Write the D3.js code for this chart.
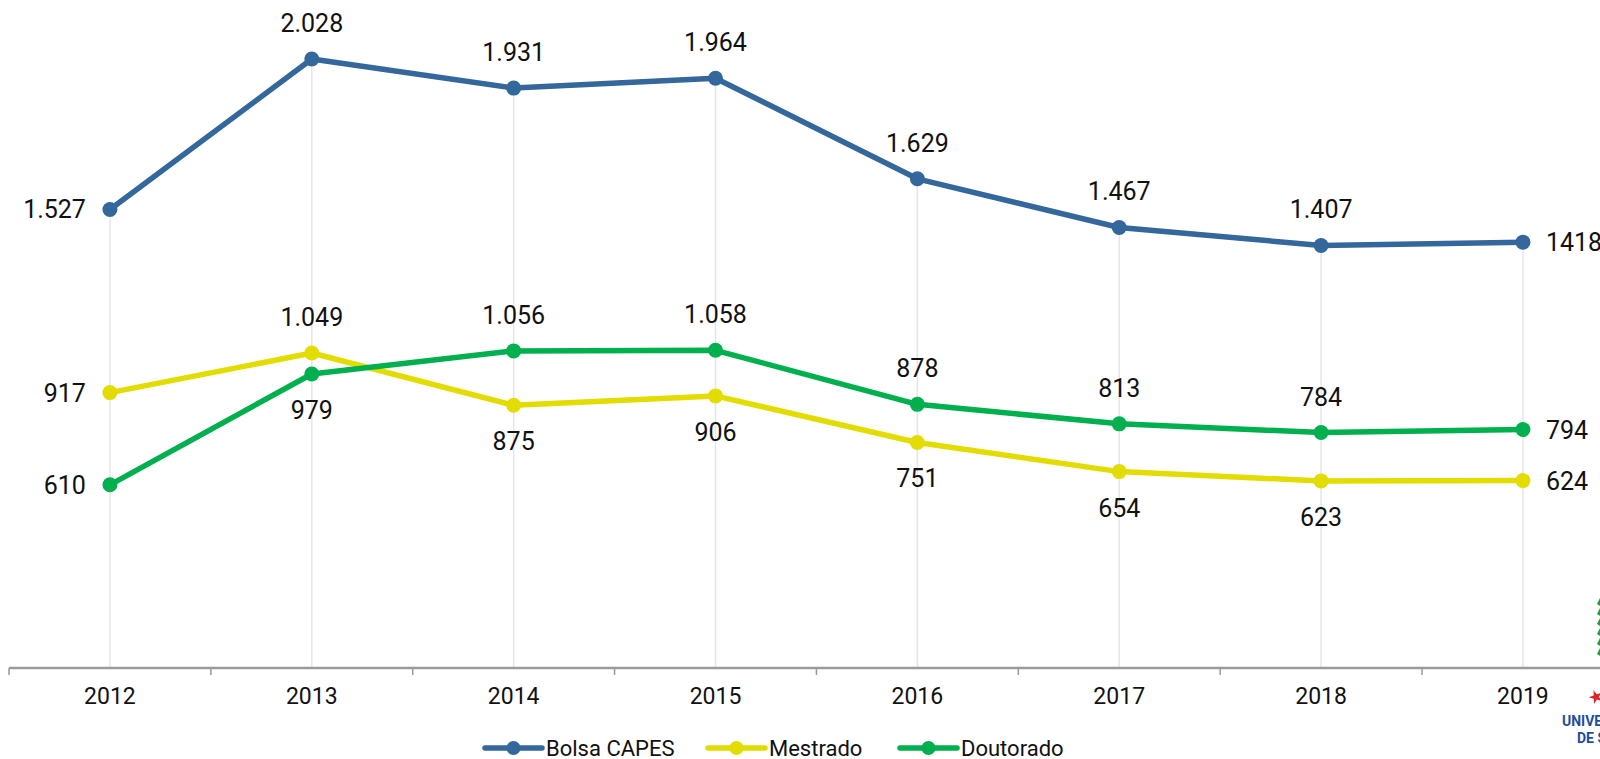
<!DOCTYPE html>
<html>
<head>
<meta charset="utf-8">
<script src="https://cdn.jsdelivr.net/npm/d3@7"></script>
<style>
  body { margin: 0; background: #fff; }
  text { font-family: Roboto, "Open Sans", sans-serif; }
</style>
</head>
<body>
<svg id="chart"></svg>
<script>
const width = 1600;
const height = 759;

// dados
const years = ["2012", "2013", "2014", "2015", "2016", "2017", "2018", "2019"];
const bolsaCapes = [1527, 2028, 1931, 1964, 1629, 1467, 1407, 1418];
const mestrado = [917, 1049, 875, 906, 751, 654, 623, 624];
const doutorado = [610, 979, 1056, 1058, 878, 813, 784, 794];
const bolsaLabels = ["1.527", "2.028", "1.931", "1.964", "1.629", "1.467", "1.407", "1418"];
const mestradoLabels = ["917", "1.049", "875", "906", "751", "654", "623", "624"];
const doutoradoLabels = ["610", "979", "1.056", "1.058", "878", "813", "784", "794"];
const seriesNames = ["Bolsa CAPES", "Mestrado", "Doutorado"];

// posição dos rótulos (esquerda/acima/abaixo/direita)
const bolsaPos = ["l", "a", "a", "a", "a", "a", "a", "r"];
const mestradoPos = ["l", "a", "b", "b", "b", "b", "b", "r"];
const doutoradoPos = ["l", "b", "a", "a", "a", "a", "a", "r"];

const colors = ["#34679b", "#e3dc00", "#00b04f"];

const series = [
  { name: seriesNames[0], values: bolsaCapes, labels: bolsaLabels, pos: bolsaPos, color: colors[0] },
  { name: seriesNames[1], values: mestrado, labels: mestradoLabels, pos: mestradoPos, color: colors[1] },
  { name: seriesNames[2], values: doutorado, labels: doutoradoLabels, pos: doutoradoPos, color: colors[2] }
];

const svg = d3.select("#chart")
    .attr("width", width)
    .attr("height", height);

const axisY = 668;

const x = d3.scaleBand()
    .domain(years)
    .range([9, 9 + 8 * 201.86])
    .padding(0);

const y = d3.scaleLinear()
    .domain([0, 2200])
    .range([axisY, axisY - 2200 * 0.3003]);

const cx = d => x(d) + x.bandwidth() / 2;

// linhas verticais do ponto mais alto até o eixo
const topValues = years.map((yr, i) => d3.max(series, s => s.values[i]));
svg.append("g")
    .selectAll("line")
    .data(years)
    .join("line")
    .attr("x1", d => cx(d))
    .attr("x2", d => cx(d))
    .attr("y1", (d, i) => y(topValues[i]))
    .attr("y2", axisY)
    .attr("stroke", "#e6e6e6")
    .attr("stroke-width", 1.5);

// eixo x
const xAxis = svg.append("g")
    .attr("transform", `translate(0,${axisY})`)
    .call(d3.axisBottom(x).tickSize(0).tickPadding(0));
xAxis.select(".domain").remove();
xAxis.selectAll("text")
    .attr("y", 28)
    .attr("dy", "0.35em")
    .attr("fill", "#111")
    .style("font-size", "23px")
    .style("font-family", "Roboto, sans-serif");

svg.append("line")
    .attr("x1", x.range()[0])
    .attr("x2", width)
    .attr("y1", axisY)
    .attr("y2", axisY)
    .attr("stroke", "#9a9a9a")
    .attr("stroke-width", 2.5);

svg.append("g")
    .selectAll("line")
    .data(years)
    .join("line")
    .attr("x1", d => x(d))
    .attr("x2", d => x(d))
    .attr("y1", axisY)
    .attr("y2", axisY + 7)
    .attr("stroke", "#9a9a9a")
    .attr("stroke-width", 1.5);

// séries
const line = d3.line()
    .x((d, i) => cx(years[i]))
    .y(d => y(d));

series.forEach(s => {
    const g = svg.append("g");
    g.append("path")
        .datum(s.values)
        .attr("d", line)
        .attr("fill", "none")
        .attr("stroke", s.color)
        .attr("stroke-width", 5.5)
        .attr("stroke-linejoin", "round");
    g.selectAll("circle")
        .data(s.values)
        .join("circle")
        .attr("cx", (d, i) => cx(years[i]))
        .attr("cy", d => y(d))
        .attr("r", 7.5)
        .attr("fill", s.color);
});

// rótulos de dados
series.forEach(s => {
    svg.append("g")
        .selectAll("text")
        .data(s.values)
        .join("text")
        .attr("x", (d, i) => {
            const p = s.pos[i];
            if (p === "l") return cx(years[i]) - 24;
            if (p === "r") return cx(years[i]) + 23;
            return cx(years[i]);
        })
        .attr("y", (d, i) => {
            const p = s.pos[i];
            if (p === "a") return y(d) - 36;
            if (p === "b") return y(d) + 36;
            return y(d);
        })
        .attr("dy", "0.36em")
        .attr("text-anchor", (d, i) => s.pos[i] === "l" ? "end" : s.pos[i] === "r" ? "start" : "middle")
        .attr("fill", "#111")
        .style("font-size", "25px")
        .text((d, i) => s.labels[i]);
});

// legenda
const legendX = [485, 708, 900];
const legendY = 748;
const legend = svg.append("g")
    .selectAll("g")
    .data(series)
    .join("g")
    .attr("transform", (d, i) => `translate(${legendX[i]},${legendY})`);
legend.append("line")
    .attr("x1", 0).attr("x2", 57)
    .attr("y1", 0).attr("y2", 0)
    .attr("stroke", d => d.color)
    .attr("stroke-width", 5.5)
    .attr("stroke-linecap", "round");
legend.append("circle")
    .attr("cx", 28.5).attr("cy", 0).attr("r", 7)
    .attr("fill", d => d.color);
legend.append("text")
    .attr("x", 61)
    .attr("dy", "0.36em")
    .attr("fill", "#111")
    .style("font-size", "22px")
    .text(d => d.name);

// pedaço do logotipo cortado no canto
const logo = svg.append("g");
logo.selectAll("path.leaf")
    .data(d3.range(6))
    .join("path")
    .attr("class", "leaf")
    .attr("d", (d, i) => `M1600,${606 + i * 10} l-3,-2 l3,-6 z`)
    .attr("fill", "#1e9e3e");
logo.append("path")
    .attr("d", d3.symbol(d3.symbolStar, 60)())
    .attr("transform", "translate(1596,697) rotate(-20)")
    .attr("fill", "#d9262b");
logo.append("text")
    .attr("x", 1562).attr("y", 726)
    .attr("fill", "#1f4e9c")
    .style("font-size", "14px")
    .style("font-weight", "bold")
    .text("UNIVERSIDADE");
logo.append("text")
    .attr("x", 1577).attr("y", 743)
    .attr("fill", "#1f4e9c")
    .style("font-size", "14px")
    .style("font-weight", "bold")
    .text("DE SÃO");
</script>
</body>
</html>
